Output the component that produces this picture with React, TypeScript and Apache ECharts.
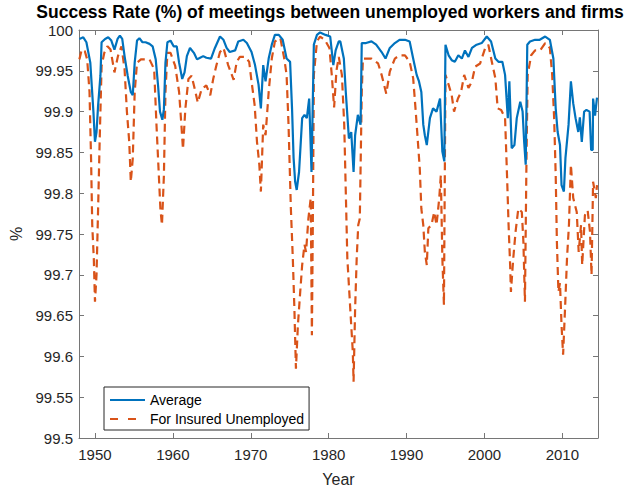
import React, { useEffect, useRef } from 'react';
import * as echarts from 'echarts';

// [year, success rate %]
const averageRate: [number, number][] = [
  [1948.0, 99.989], [1948.5, 99.991], [1948.9, 99.985], [1949.4, 99.96], [1949.6, 99.93],
  [1949.8, 99.9], [1950.0, 99.863], [1950.2, 99.875], [1950.4, 99.907], [1950.7, 99.944],
  [1950.85, 99.985], [1951.3, 99.989], [1951.7, 99.991], [1952.1, 99.987], [1952.5, 99.976],
  [1952.9, 99.989], [1953.2, 99.993], [1953.5, 99.989], [1953.8, 99.968], [1954.2, 99.944],
  [1954.6, 99.924], [1954.85, 99.92], [1955.1, 99.96], [1955.4, 99.987], [1955.7, 99.99],
  [1956.1, 99.985], [1956.5, 99.985], [1957.0, 99.983], [1957.4, 99.98], [1957.8, 99.964],
  [1958.1, 99.932], [1958.35, 99.9], [1958.65, 99.89], [1958.85, 99.903], [1959.05, 99.96],
  [1959.3, 99.985], [1959.7, 99.987], [1960.1, 99.98], [1960.5, 99.98], [1960.8, 99.96],
  [1961.2, 99.94], [1961.5, 99.948], [1961.8, 99.968], [1962.2, 99.978], [1962.7, 99.972],
  [1963.1, 99.964], [1963.5, 99.966], [1963.9, 99.968], [1964.3, 99.966], [1964.9, 99.965],
  [1965.4, 99.978], [1966.05, 99.992], [1966.5, 99.988], [1966.9, 99.978], [1967.3, 99.973],
  [1968.0, 99.975], [1968.4, 99.986], [1969.05, 99.988], [1969.5, 99.984], [1970.1, 99.973],
  [1970.55, 99.957], [1971.0, 99.933], [1971.3, 99.904], [1971.6, 99.957], [1971.9, 99.937],
  [1972.3, 99.965], [1972.7, 99.982], [1973.1, 99.994], [1973.6, 99.994], [1974.1, 99.988],
  [1974.6, 99.965], [1975.05, 99.961], [1975.3, 99.904], [1975.5, 99.843], [1975.7, 99.814],
  [1975.9, 99.804], [1976.2, 99.826], [1976.6, 99.892], [1976.9, 99.896], [1977.2, 99.892],
  [1977.5, 99.916], [1977.8, 99.826], [1978.1, 99.982], [1978.5, 99.994], [1978.9, 99.997],
  [1979.6, 99.994], [1980.2, 99.992], [1980.6, 99.957], [1980.9, 99.975], [1981.3, 99.986],
  [1981.5, 99.986], [1981.95, 99.965], [1982.2, 99.924], [1982.6, 99.867], [1982.9, 99.875],
  [1983.2, 99.826], [1983.4, 99.871], [1983.75, 99.896], [1984.1, 99.884], [1984.25, 99.984],
  [1984.8, 99.984], [1985.5, 99.986], [1986.1, 99.982], [1986.8, 99.973], [1987.3, 99.965],
  [1987.85, 99.978], [1988.5, 99.984], [1989.1, 99.988], [1989.8, 99.988], [1990.4, 99.986],
  [1990.85, 99.965], [1991.3, 99.945], [1991.6, 99.937], [1991.9, 99.924], [1992.15, 99.884],
  [1992.35, 99.871], [1992.6, 99.859], [1993.0, 99.892], [1993.4, 99.904], [1993.85, 99.9],
  [1994.3, 99.916], [1994.6, 99.851], [1994.85, 99.839], [1995.0, 99.982], [1995.4, 99.969],
  [1995.8, 99.963], [1996.2, 99.961], [1996.65, 99.969], [1997.1, 99.965], [1997.5, 99.975],
  [1997.95, 99.967], [1998.4, 99.978], [1999.0, 99.982], [1999.65, 99.984], [2000.3, 99.992],
  [2000.85, 99.986], [2001.4, 99.965], [2001.8, 99.961], [2002.3, 99.961], [2002.65, 99.945],
  [2003.0, 99.892], [2003.2, 99.937], [2003.5, 99.855], [2003.85, 99.859], [2004.15, 99.892],
  [2004.6, 99.912], [2004.9, 99.9], [2005.1, 99.863], [2005.3, 99.835], [2005.5, 99.982],
  [2005.85, 99.986], [2006.5, 99.988], [2007.1, 99.988], [2007.8, 99.992], [2008.4, 99.988],
  [2008.85, 99.965], [2009.15, 99.904], [2009.4, 99.875], [2009.7, 99.859], [2009.9, 99.81],
  [2010.2, 99.802], [2010.4, 99.843], [2010.8, 99.884], [2011.1, 99.937], [2011.4, 99.91],
  [2011.7, 99.892], [2012.05, 99.875], [2012.25, 99.893], [2012.5, 99.863], [2012.8, 99.9],
  [2013.1, 99.902], [2013.5, 99.9], [2013.7, 99.853], [2013.9, 99.853], [2013.95, 99.916],
  [2014.2, 99.895], [2014.45, 99.917],
];

const insuredRate: [number, number][] = [
  [1948.0, 99.964], [1948.3, 99.976], [1948.7, 99.974], [1949.0, 99.964], [1949.3, 99.924],
  [1949.5, 99.842], [1949.65, 99.761], [1949.85, 99.72], [1950.0, 99.667], [1950.2, 99.7],
  [1950.4, 99.78], [1950.6, 99.863], [1950.85, 99.956], [1951.2, 99.972], [1951.6, 99.98],
  [1952.0, 99.976], [1952.5, 99.948], [1952.95, 99.968], [1953.4, 99.98], [1953.8, 99.952],
  [1954.1, 99.9], [1954.4, 99.863], [1954.6, 99.814], [1954.85, 99.842], [1955.1, 99.924],
  [1955.4, 99.96], [1955.9, 99.964], [1956.5, 99.964], [1957.0, 99.964], [1957.6, 99.952],
  [1957.9, 99.883], [1958.2, 99.822], [1958.4, 99.781], [1958.6, 99.761], [1958.85, 99.822],
  [1959.05, 99.924], [1959.3, 99.972], [1959.7, 99.972], [1960.3, 99.956], [1960.8, 99.924],
  [1961.1, 99.883], [1961.3, 99.854], [1961.6, 99.903], [1962.0, 99.94], [1962.4, 99.944],
  [1962.9, 99.924], [1963.2, 99.911], [1963.7, 99.928], [1964.3, 99.932], [1964.8, 99.92],
  [1965.2, 99.941], [1965.6, 99.957], [1966.05, 99.973], [1966.5, 99.978], [1967.1, 99.957],
  [1967.8, 99.939], [1968.2, 99.961], [1968.6, 99.967], [1969.3, 99.967], [1969.8, 99.961],
  [1970.1, 99.937], [1970.5, 99.908], [1970.8, 99.863], [1971.1, 99.835], [1971.3, 99.802],
  [1971.6, 99.884], [1971.9, 99.871], [1972.3, 99.924], [1972.7, 99.965], [1973.1, 99.986],
  [1973.8, 99.99], [1974.3, 99.965], [1974.6, 99.945], [1974.85, 99.884], [1975.15, 99.781],
  [1975.4, 99.72], [1975.6, 99.659], [1975.8, 99.585], [1976.05, 99.638], [1976.35, 99.679],
  [1976.6, 99.712], [1976.9, 99.737], [1977.1, 99.728], [1977.4, 99.769], [1977.7, 99.794],
  [1977.85, 99.626], [1978.0, 99.8], [1978.1, 99.945], [1978.5, 99.986], [1978.9, 99.992],
  [1979.5, 99.988], [1980.1, 99.978], [1980.4, 99.945], [1980.7, 99.905], [1981.0, 99.95],
  [1981.3, 99.967], [1981.7, 99.945], [1982.0, 99.884], [1982.2, 99.802], [1982.4, 99.72],
  [1982.65, 99.679], [1982.9, 99.638], [1983.1, 99.606], [1983.2, 99.569], [1983.4, 99.659],
  [1983.6, 99.72], [1983.8, 99.761], [1984.0, 99.769], [1984.25, 99.924], [1984.4, 99.965],
  [1984.8, 99.965], [1985.5, 99.965], [1986.35, 99.959], [1986.8, 99.945], [1987.4, 99.922],
  [1987.85, 99.949], [1988.5, 99.965], [1989.1, 99.969], [1989.8, 99.969], [1990.4, 99.961],
  [1990.85, 99.941], [1991.15, 99.904], [1991.4, 99.871], [1991.7, 99.83], [1991.9, 99.781],
  [1992.15, 99.761], [1992.35, 99.728], [1992.6, 99.712], [1992.8, 99.757], [1993.2, 99.761],
  [1993.55, 99.777], [1993.85, 99.761], [1994.2, 99.794], [1994.4, 99.822], [1994.6, 99.72],
  [1994.8, 99.663], [1995.0, 99.945], [1995.4, 99.933], [1995.8, 99.92], [1996.1, 99.9],
  [1996.6, 99.916], [1997.0, 99.924], [1997.4, 99.945], [1997.95, 99.929], [1998.4, 99.937],
  [1998.8, 99.955], [1999.45, 99.959], [2000.1, 99.978], [2000.5, 99.982], [2000.95, 99.961],
  [2001.4, 99.941], [2001.7, 99.904], [2002.15, 99.902], [2002.65, 99.892], [2002.9, 99.822],
  [2003.1, 99.761], [2003.3, 99.712], [2003.4, 99.679], [2003.7, 99.72], [2004.0, 99.753],
  [2004.35, 99.781], [2004.8, 99.777], [2005.0, 99.741], [2005.2, 99.667], [2005.4, 99.843],
  [2005.55, 99.945], [2006.0, 99.969], [2006.5, 99.975], [2007.15, 99.975], [2007.8, 99.984],
  [2008.4, 99.978], [2008.7, 99.945], [2008.95, 99.892], [2009.15, 99.822], [2009.3, 99.741],
  [2009.5, 99.679], [2009.7, 99.69], [2009.9, 99.638], [2010.1, 99.602], [2010.35, 99.659],
  [2010.6, 99.72], [2010.85, 99.761], [2011.1, 99.835], [2011.4, 99.794], [2011.85, 99.777],
  [2012.1, 99.728], [2012.4, 99.761], [2012.55, 99.712], [2012.9, 99.773], [2013.25, 99.779],
  [2013.55, 99.753], [2013.75, 99.7], [2013.95, 99.814], [2014.3, 99.794], [2014.45, 99.81],
];

const yearTicks = [1950, 1960, 1970, 1980, 1990, 2000, 2010];

const FONT = '"Liberation Sans", Arial, Helvetica, sans-serif';
const TEXT_COLOR = '#262626';
const AXIS_COLOR = '#767676';

const App: React.FC = () => {
  const chartRef = useRef<HTMLDivElement | null>(null);

  useEffect(() => {
    document.body.style.margin = '0';
    if (!chartRef.current) return;
    const chart = echarts.init(chartRef.current, undefined, { renderer: 'svg' });

    const axisLine = { show: true, lineStyle: { color: AXIS_COLOR, width: 1 } };
    const tick = { show: true, inside: true, length: 5, lineStyle: { color: AXIS_COLOR } };

    chart.setOption({
      animation: false,
      backgroundColor: '#ffffff',
      textStyle: { fontFamily: FONT },
      title: {
        text: 'Success Rate (%) of meetings between unemployed workers and firms',
        left: 330,
        textAlign: 'center',
        top: 4,
        padding: 0,
        textStyle: {
          fontFamily: FONT,
          fontSize: 17.5,
          lineHeight: 16,
          fontWeight: 'bold',
          color: '#000',
        },
      },
      grid: { left: 79, right: 27, top: 30, bottom: 54 },
      legend: {
        orient: 'vertical',
        left: 104,
        top: 387,
        data: [
          { name: 'Average' },
          { name: 'For Insured Unemployed', lineStyle: { type: [8, 10] } },
        ],
        itemWidth: 35,
        itemHeight: 14,
        itemGap: 5,
        padding: [6, 5, 4, 5],
        borderColor: TEXT_COLOR,
        borderWidth: 1,
        backgroundColor: '#ffffff',
        itemStyle: { opacity: 0 },
        textStyle: { fontFamily: FONT, fontSize: 14, color: '#000' },
      },
      xAxis: [
        {
          type: 'value',
          min: 1947.95,
          max: 2014.58,
          name: 'Year',
          nameLocation: 'middle',
          nameGap: 33,
          nameTextStyle: { fontFamily: FONT, fontSize: 16, color: TEXT_COLOR },
          axisLine,
          axisTick: { ...tick, customValues: yearTicks },
          axisLabel: {
            customValues: yearTicks,
            fontFamily: FONT,
            fontSize: 15,
            color: TEXT_COLOR,
            margin: 9,
            formatter: (v: number) => String(v),
          },
          splitLine: { show: false },
        },
        {
          type: 'value',
          position: 'top',
          min: 1947.95,
          max: 2014.58,
          axisLine,
          axisTick: { ...tick, customValues: yearTicks },
          axisLabel: { show: false },
          splitLine: { show: false },
        },
      ],
      yAxis: [
        {
          type: 'value',
          min: 99.5,
          max: 100,
          interval: 0.05,
          name: '%',
          nameLocation: 'middle',
          nameGap: 51,
          nameTextStyle: { fontFamily: FONT, fontSize: 16, color: TEXT_COLOR },
          axisLine,
          axisTick: tick,
          axisLabel: {
            fontFamily: FONT,
            fontSize: 15,
            lineHeight: 14,
            color: TEXT_COLOR,
            margin: 6,
            formatter: (v: number) => String(parseFloat(v.toFixed(2))),
          },
          splitLine: { show: false },
        },
        {
          type: 'value',
          position: 'right',
          min: 99.5,
          max: 100,
          interval: 0.05,
          axisLine,
          axisTick: tick,
          axisLabel: { show: false },
          splitLine: { show: false },
        },
      ],
      series: [
        {
          name: 'Average',
          type: 'line',
          data: averageRate,
          symbol: 'none',
          lineStyle: { color: '#0072BD', width: 2.2 },
          itemStyle: { color: '#0072BD' },
          z: 3,
        },
        {
          name: 'For Insured Unemployed',
          type: 'line',
          data: insuredRate,
          symbol: 'none',
          lineStyle: { color: '#D95319', width: 2.2, type: [8, 5] },
          itemStyle: { color: '#D95319' },
          z: 2,
        },
      ],
    });

    return () => {
      chart.dispose();
    };
  }, []);

  return <div ref={chartRef} style={{ width: 625, height: 492 }} />;
};

export default App;
